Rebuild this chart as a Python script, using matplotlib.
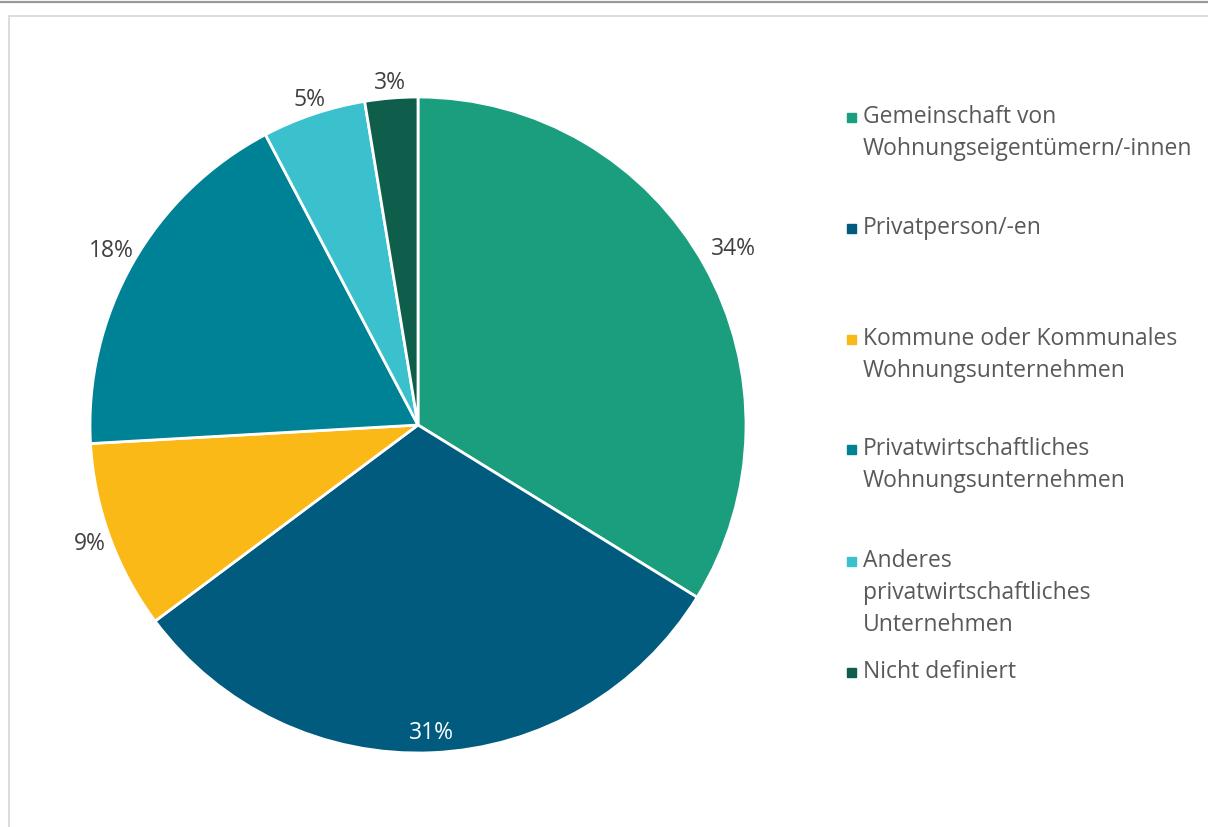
import matplotlib
matplotlib.use("Agg")
import matplotlib.pyplot as plt
import numpy as np
from matplotlib.patches import Rectangle
from matplotlib.lines import Line2D

categories = [
    "Gemeinschaft von\nWohnungseigentümern/-innen",
    "Privatperson/-en",
    "Kommune oder Kommunales\nWohnungsunternehmen",
    "Privatwirtschaftliches\nWohnungsunternehmen",
    "Anderes\nprivatwirtschaftliches\nUnternehmen",
    "Nicht definiert",
]
values = [33.8, 31.0, 9.3, 18.2, 5.1, 2.6]
colors = ["#1A9E7E", "#005B7F", "#FBB918", "#008296", "#3BC1CD", "#0F5E4B"]
label_dist = [1.10, 0.94, 1.065, 1.075, 1.045, 1.045]
label_colors = ["#404040", "white", "#404040", "#404040", "#404040", "#404040"]

plt.rcParams['font.family'] = ['Open Sans', 'DejaVu Sans']

W, H = 1208, 827
fig = plt.figure(figsize=(W / 100, H / 100), dpi=100)

# frame decorations
fig.add_artist(Line2D([0, 1], [1 - 1.5 / H, 1 - 1.5 / H], transform=fig.transFigure,
                      color="#999999", lw=1.6))
fig.add_artist(Line2D([8.5 / W, 8.5 / W, 1], [0, 1 - 15.5 / H, 1 - 15.5 / H],
                      transform=fig.transFigure, color="#D9D9D9", lw=1.3))

cx, cy, R = 418, 425, 328
ax = fig.add_axes([(cx - R) / W, (H - cy - R) / H, 2 * R / W, 2 * R / H])
wedges, _ = ax.pie(values, colors=colors, startangle=90, counterclock=False,
                   radius=1.0, wedgeprops=dict(edgecolor="white", linewidth=2.0))
ax.set_xlim(-1, 1)
ax.set_ylim(-1, 1)
ax.set_aspect("equal")
ax.axis("off")

for w, v, d, c in zip(wedges, values, label_dist, label_colors):
    ang = np.deg2rad((w.theta1 + w.theta2) / 2)
    ax.text(d * np.cos(ang), d * np.sin(ang), f"{v:.0f}%", ha="center", va="center",
            fontsize=16.5, color=c)

# legend
leg_y = [117, 228, 339, 449, 561, 672]
line_h = 32
for lab, col, y in zip(categories, colors, leg_y):
    fig.add_artist(Rectangle(((851 - 4.5) / W, (H - y - 4.5) / H), 9 / W, 9 / H,
                             transform=fig.transFigure, color=col))
    for i, part in enumerate(lab.split("\n")):
        fig.text(863 / W, (H - y - i * line_h) / H, part, ha="left", va="center",
                 fontsize=16.5, color="#595959")

fig.savefig("out.png", dpi=100, facecolor="white")
